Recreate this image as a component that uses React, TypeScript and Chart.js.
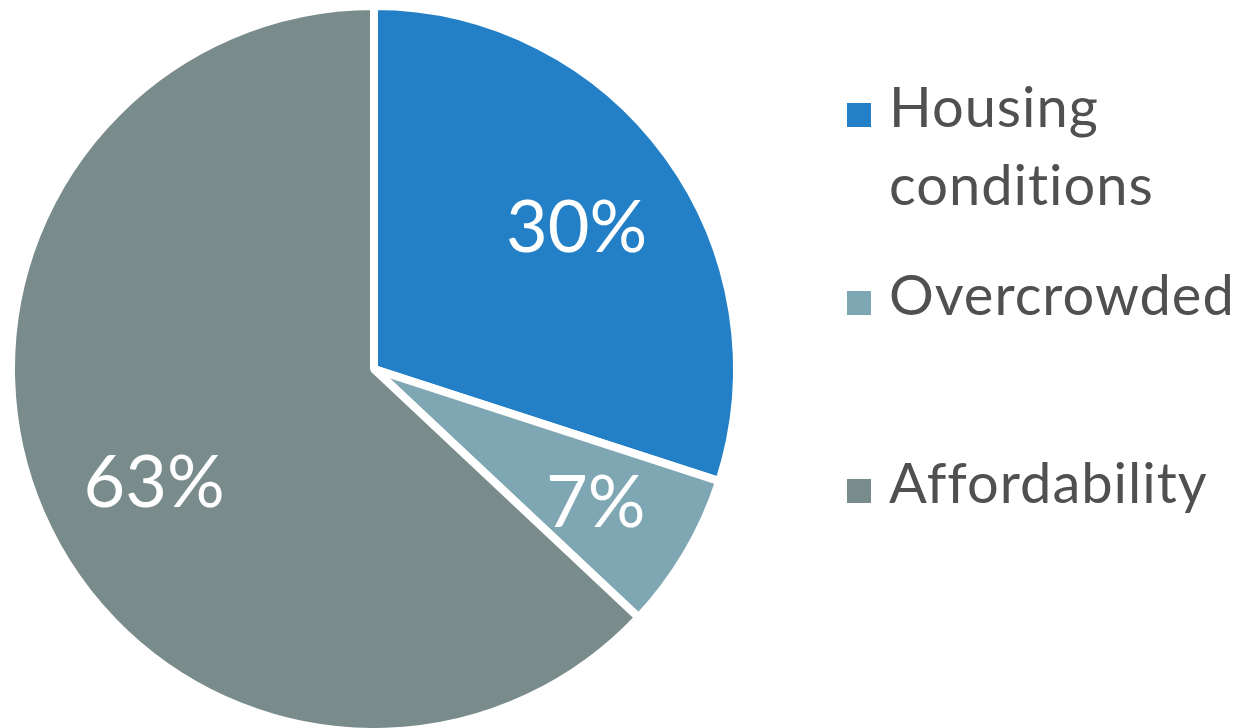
import React, { useEffect, useRef } from "react";
import { Chart, registerables } from "chart.js";

Chart.register(...registerables);

const categories = ["Housing conditions", "Overcrowded", "Affordability"];
const legendLines = [["Housing", "conditions"], ["Overcrowded"], ["Affordability"]];
const values = [30, 7, 63];
const valueLabels = ["30%", "7%", "63%"];
const colors = ["#2480C6", "#7FA7B3", "#7A8B8B"];

// style: label placement per slice (radius fraction, vertical nudge)
const labelRadiusFrac = [0.69, 0.71, 0.66];
const labelNudgeY = [7, 4, 20];
const legendBaselines = [[127, 205], [315], [503]];

export default function App() {
  const ref = useRef<HTMLCanvasElement | null>(null);

  useEffect(() => {
    const canvas = ref.current;
    if (!canvas) return;

    const labelPlugin = {
      id: "customLabels",
      afterDatasetsDraw(chart: any) {
        const ctx = chart.ctx as CanvasRenderingContext2D;
        const meta = chart.getDatasetMeta(0);
        ctx.save();
        ctx.fillStyle = "#ffffff";
        ctx.font = "400 72px Lato";
        ctx.textAlign = "center";
        ctx.textBaseline = "middle";
        meta.data.forEach((arc: any, i: number) => {
          const p = arc.getProps(["x", "y", "startAngle", "endAngle", "outerRadius"], true);
          const mid = (p.startAngle + p.endAngle) / 2;
          const r = p.outerRadius * labelRadiusFrac[i];
          ctx.fillText(valueLabels[i], p.x + Math.cos(mid) * r, p.y + Math.sin(mid) * r + labelNudgeY[i]);
        });
        ctx.restore();
      },
      afterDraw(chart: any) {
        const ctx = chart.ctx as CanvasRenderingContext2D;
        ctx.save();
        ctx.font = "400 56px Lato";
        (ctx as any).letterSpacing = "1px";
        ctx.textAlign = "left";
        ctx.textBaseline = "alphabetic";
        legendLines.forEach((lines, i) => {
          const bases = legendBaselines[i];
          ctx.fillStyle = colors[i];
          ctx.fillRect(847, bases[0] - 24, 24, 24);
          ctx.fillStyle = "#505050";
          lines.forEach((t, j) => {
            ctx.fillText(t, 889, bases[j]);
          });
        });
        ctx.restore();
      },
    };

    const chart = new Chart(canvas, {
      type: "pie",
      data: {
        labels: categories,
        datasets: [
          {
            data: values,
            backgroundColor: colors,
            borderColor: "#ffffff",
            borderWidth: 8,
            clip: false as any,
          },
        ],
      },
      options: {
        responsive: false,
        animation: false,
        radius: 363,
        layout: { padding: { left: 0, right: 499, top: 10, bottom: 0 } },
        plugins: {
          legend: { display: false },
          tooltip: { enabled: false },
        },
      } as any,
      plugins: [labelPlugin],
    });

    return () => chart.destroy();
  }, []);

  return (
    <div style={{ position: "fixed", left: 0, top: 0, width: 1247, height: 728, overflow: "hidden", background: "#fff" }}>
      <canvas ref={ref} width={1247} height={728} style={{ display: "block", width: 1247, height: 728 }} />
    </div>
  );
}
